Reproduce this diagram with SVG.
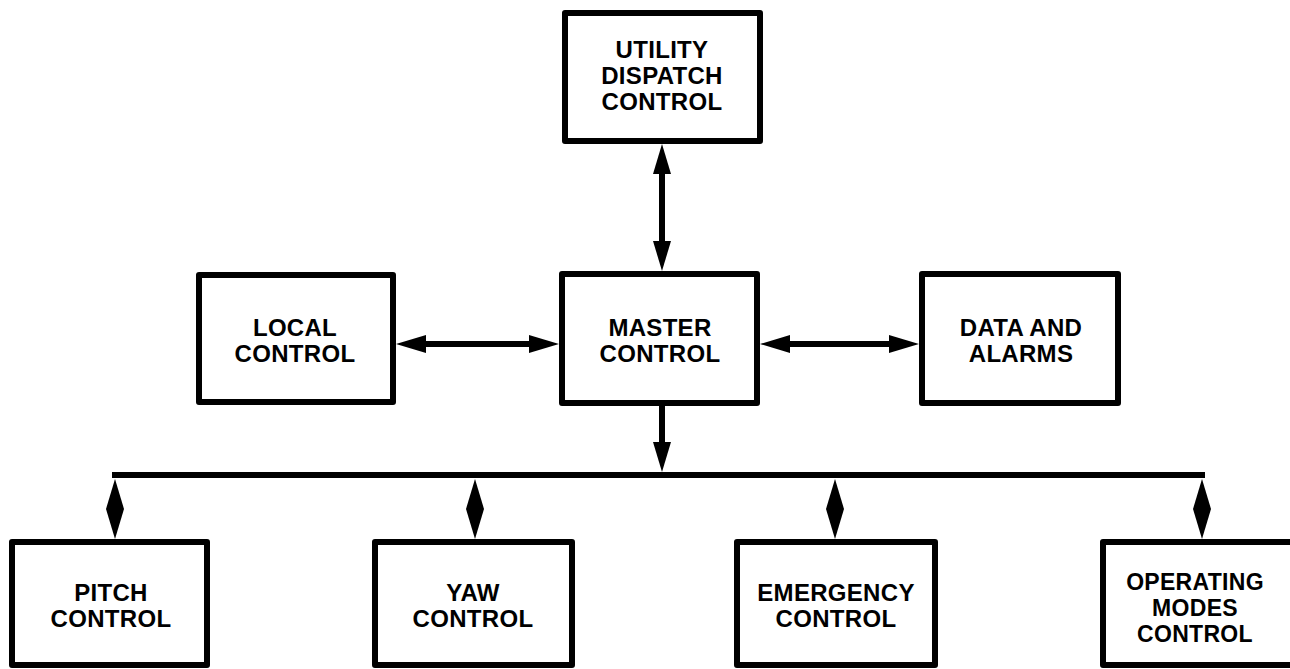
<svg xmlns="http://www.w3.org/2000/svg" width="1290" height="669" viewBox="0 0 1290 669">
  <style>
    .box { fill: #fff; stroke: #000; stroke-width: 6; stroke-linejoin: round; }
    .lbl { font-family: "Liberation Sans", Arial, sans-serif; font-weight: bold; font-size: 24px; fill: #000; text-anchor: middle; letter-spacing: 0.3px; }
    .sm { font-size: 23px; }
    .conn { fill: none; stroke: #000; stroke-width: 6; stroke-linecap: butt; }
  </style>
  <defs>
    <marker id="ah" markerUnits="userSpaceOnUse" markerWidth="32" markerHeight="20" refX="15" refY="9" orient="auto-start-reverse">
      <path d="M0,0 L30,9 L0,18 Z" fill="#000"/>
    </marker>
  </defs>
  <rect width="1290" height="669" fill="#fff"/>

  <g id="connectors">
    <line class="conn" x1="662" y1="159" x2="662" y2="256" marker-start="url(#ah)" marker-end="url(#ah)"/>
    <line class="conn" x1="411" y1="344" x2="544" y2="344" marker-start="url(#ah)" marker-end="url(#ah)"/>
    <line class="conn" x1="775" y1="344" x2="904" y2="344" marker-start="url(#ah)" marker-end="url(#ah)"/>
    <line class="conn" x1="662" y1="405" x2="662" y2="457" marker-end="url(#ah)"/>
    <line class="conn" x1="112" y1="475" x2="1205" y2="475"/>
    <line class="conn" x1="115" y1="494" x2="115" y2="524" marker-start="url(#ah)" marker-end="url(#ah)"/>
    <line class="conn" x1="475" y1="494" x2="475" y2="524" marker-start="url(#ah)" marker-end="url(#ah)"/>
    <line class="conn" x1="835" y1="494" x2="835" y2="524" marker-start="url(#ah)" marker-end="url(#ah)"/>
    <line class="conn" x1="1202" y1="494" x2="1202" y2="524" marker-start="url(#ah)" marker-end="url(#ah)"/>
  </g>

  <g id="utility">
    <rect class="box" x="565" y="13" width="195" height="128"/>
    <text class="lbl" x="662" y="58">UTILITY</text>
    <text class="lbl" x="662" y="84">DISPATCH</text>
    <text class="lbl" x="662" y="110">CONTROL</text>
  </g>
  <g id="local">
    <rect class="box" x="199" y="275" width="194" height="127"/>
    <text class="lbl" x="295" y="336">LOCAL</text>
    <text class="lbl" x="295" y="362">CONTROL</text>
  </g>
  <g id="master">
    <rect class="box" x="562" y="274" width="195" height="129"/>
    <text class="lbl" x="660" y="336">MASTER</text>
    <text class="lbl" x="660" y="362">CONTROL</text>
  </g>
  <g id="data">
    <rect class="box" x="922" y="274" width="196" height="129"/>
    <text class="lbl" x="1021" y="336">DATA AND</text>
    <text class="lbl" x="1021" y="362">ALARMS</text>
  </g>
  <g id="pitch">
    <rect class="box" x="12" y="542" width="195" height="123"/>
    <text class="lbl" x="111" y="601">PITCH</text>
    <text class="lbl" x="111" y="627">CONTROL</text>
  </g>
  <g id="yaw">
    <rect class="box" x="375" y="542" width="197" height="123"/>
    <text class="lbl" x="473" y="601">YAW</text>
    <text class="lbl" x="473" y="627">CONTROL</text>
  </g>
  <g id="emergency">
    <rect class="box" x="737" y="542" width="198" height="123"/>
    <text class="lbl" x="836" y="601">EMERGENCY</text>
    <text class="lbl" x="836" y="627">CONTROL</text>
  </g>
  <g id="operating">
    <rect class="box" x="1103" y="542" width="200" height="123"/>
    <text class="lbl sm" x="1195" y="590">OPERATING</text>
    <text class="lbl sm" x="1195" y="616">MODES</text>
    <text class="lbl sm" x="1195" y="642">CONTROL</text>
  </g>
</svg>
